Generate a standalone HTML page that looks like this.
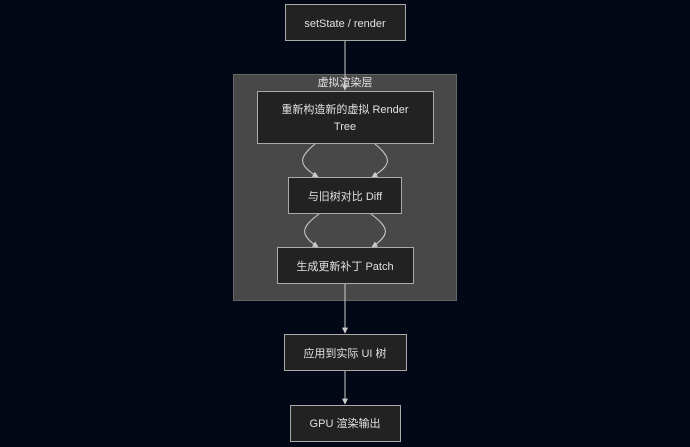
<!DOCTYPE html>
<html><head><meta charset="utf-8"><style>
html,body{margin:0;padding:0;background:#030816;}
svg{display:block}
text{font-family:"Liberation Sans","Noto Sans CJK SC",sans-serif;fill:#e0e0e0;font-size:11px;text-anchor:middle}
</style></head><body>
<svg width="690" height="447" viewBox="0 0 690 447" xmlns="http://www.w3.org/2000/svg">
<defs><marker id="a" viewBox="0 0 10 10" refX="9" refY="5" markerWidth="6" markerHeight="6" orient="auto"><path d="M0,0L10,5L0,10z" fill="#ccc"/></marker></defs>
<rect x="0" y="0" width="690" height="447" fill="#030816"/>
<rect x="233.5" y="74.5" width="223" height="226" fill="#484848" stroke="#666" stroke-width="1"/>
<text x="345" y="86" font-size="12" fill="#fff">虚拟渲染层</text>
<g stroke="#ccc" stroke-width="1" fill="none">
<line x1="345" y1="41" x2="345" y2="90" marker-end="url(#a)"/>
<path d="M315,144 C298,158 298,165 318,177" marker-end="url(#a)"/>
<path d="M375,144 C392,158 392,165 372,177" marker-end="url(#a)"/>
<path d="M319,214 C300,228 300,235 318,247" marker-end="url(#a)"/>
<path d="M371,214 C390,228 390,235 372,247" marker-end="url(#a)"/>
<line x1="345" y1="284" x2="345" y2="333" marker-end="url(#a)"/>
<line x1="345" y1="371" x2="345" y2="404" marker-end="url(#a)"/>
</g>
<g fill="#222" stroke="#aaa" stroke-width="1">
<rect x="285.5" y="4.5" width="120" height="36"/>
<rect x="257.5" y="91.5" width="176" height="52"/>
<rect x="288.5" y="177.5" width="113" height="36"/>
<rect x="277.5" y="247.5" width="136" height="36"/>
<rect x="284.5" y="334.5" width="122" height="36"/>
<rect x="290.5" y="405.5" width="110" height="36"/>
</g>
<text x="345" y="27">setState / render</text>
<text x="345" y="113">重新构造新的虚拟 Render</text>
<text x="345" y="130">Tree</text>
<text x="345" y="200">与旧树对比 Diff</text>
<text x="345" y="270">生成更新补丁 Patch</text>
<text x="345" y="357">应用到实际 UI 树</text>
<text x="345" y="427">GPU 渲染输出</text>
</svg>
</body></html>
